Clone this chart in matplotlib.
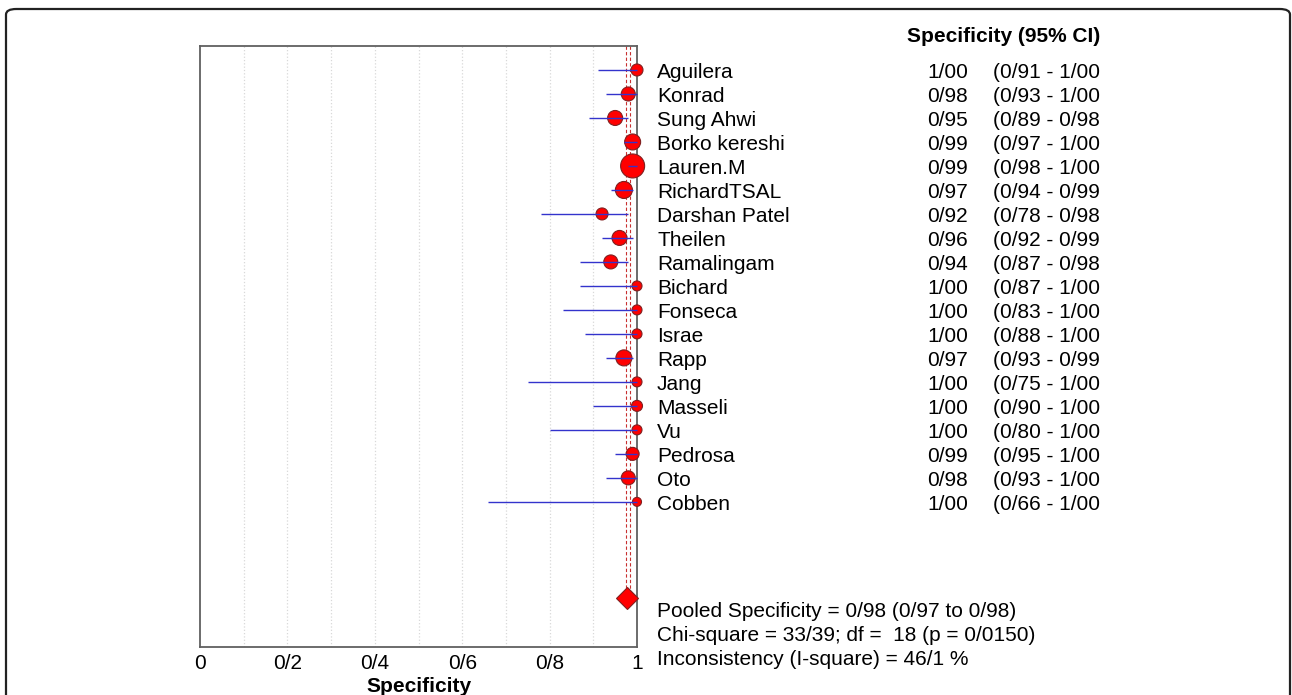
import matplotlib
matplotlib.use('Agg')
import matplotlib.pyplot as plt
import matplotlib.transforms as mtransforms
from matplotlib.patches import FancyBboxPatch
from matplotlib.ticker import FuncFormatter
import numpy as np

plt.rcParams['font.family'] = ['Liberation Sans', 'DejaVu Sans']

# study data
studies = ['Aguilera', 'Konrad', 'Sung Ahwi', 'Borko kereshi', 'Lauren.M', 'RichardTSAL',
           'Darshan Patel', 'Theilen', 'Ramalingam', 'Bichard', 'Fonseca', 'Israe', 'Rapp',
           'Jang', 'Masseli', 'Vu', 'Pedrosa', 'Oto', 'Cobben']
spec = [1.00, 0.98, 0.95, 0.99, 0.99, 0.97, 0.92, 0.96, 0.94, 1.00, 1.00, 1.00, 0.97,
        1.00, 1.00, 1.00, 0.99, 0.98, 1.00]
ci_low = [0.91, 0.93, 0.89, 0.97, 0.98, 0.94, 0.78, 0.92, 0.87, 0.87, 0.83, 0.88, 0.93,
          0.75, 0.90, 0.80, 0.95, 0.93, 0.66]
ci_high = [1.00, 1.00, 0.98, 1.00, 1.00, 0.99, 0.98, 0.99, 0.98, 1.00, 1.00, 1.00, 0.99,
           1.00, 1.00, 1.00, 1.00, 1.00, 1.00]
# marker radius (px) ~ study weight
radius = [6, 7, 7.5, 8, 12, 8.5, 6, 7.5, 7, 5, 5, 5, 8, 5, 5.5, 5, 6.5, 7, 4.5]

pooled = 0.978
pooled_low = 0.974
pooled_high = 0.983
stats_lines = ['Pooled Specificity = 0/98 (0/97 to 0/98)',
               'Chi-square = 33/39; df =  18 (p = 0/0150)',
               'Inconsistency (I-square) = 46/1 %']


def fmt(v):
    return ('%.2f' % v).replace('.', '/')


fig = plt.figure(figsize=(12.92, 6.95), dpi=100)
ax = fig.add_axes([200/1292, 1 - 647/695, 437/1292, 601/695])

rows = np.arange(1, len(studies) + 1)
pooled_row = 23

ax.vlines([pooled_low, pooled_high], 0, pooled_row, colors='#c83030', linestyles=(0, (3, 2)),
          linewidth=0.8, zorder=2)

sizes = [(2 * r * 0.72) ** 2 for r in radius]
ax.scatter(spec, rows, s=sizes, color='#ff0000', edgecolor='#802020', linewidth=0.8, zorder=3,
           clip_on=False)
ax.hlines(rows, ci_low, ci_high, colors='#3333cc', linewidth=1.0, zorder=4, clip_on=False)

ax.plot([pooled], [pooled_row], marker='D', markersize=11, color='#ff0000',
        markeredgecolor='#802020', markeredgewidth=0.8, zorder=5, clip_on=False)

ax.set_xlim(0, 1)
ax.set_ylim(25.05, 0)
ax.set_xticks([0, 0.2, 0.4, 0.6, 0.8, 1.0])
ax.xaxis.set_major_formatter(FuncFormatter(lambda v, p: '0' if v == 0 else ('1' if v == 1 else ('%.1f' % v).replace('.', '/'))))
ax.tick_params(axis='x', length=0, pad=5, labelsize=15)
ax.set_yticks([])
for g in np.arange(0.1, 1.0, 0.1):
    ax.axvline(g, color='#d8d8d8', linestyle=':', linewidth=0.9, zorder=1)
for sp in ax.spines.values():
    sp.set_color('#606060')
    sp.set_linewidth(1.3)
ax.set_xlabel('Specificity', fontsize=15, fontweight='bold', labelpad=3)

trans = mtransforms.blended_transform_factory(fig.transFigure, ax.transData)
fs = 15
dy = 0.09  # nudge text down so it lines up with the markers
for i, name in enumerate(studies):
    y = rows[i] + dy
    ax.text(657/1292, y, name, transform=trans, fontsize=fs, va='center', ha='left')
    ax.text(968/1292, y, fmt(spec[i]), transform=trans, fontsize=fs, va='center', ha='right')
    ax.text(993/1292, y, '(%s - %s' % (fmt(ci_low[i]), fmt(ci_high[i])), transform=trans,
            fontsize=fs, va='center', ha='left')
ax.text(1004/1292, -0.5 + dy, 'Specificity (95% CI)', transform=trans, fontsize=fs,
        fontweight='bold', va='center', ha='center')
for k, line in enumerate(stats_lines):
    ax.text(657/1292, 23.5 + k + dy, line, transform=trans, fontsize=fs, va='center', ha='left')

# outer rounded frame, its bottom edge falls outside the image
border = FancyBboxPatch((6/1292, -20/695), 1284/1292, 706/695,
                        boxstyle='round,pad=0,rounding_size=0.008',
                        transform=fig.transFigure, fill=False, edgecolor='#222222',
                        linewidth=1.6, clip_on=False)
fig.patches.append(border)

fig.savefig('out.png', dpi=100)
